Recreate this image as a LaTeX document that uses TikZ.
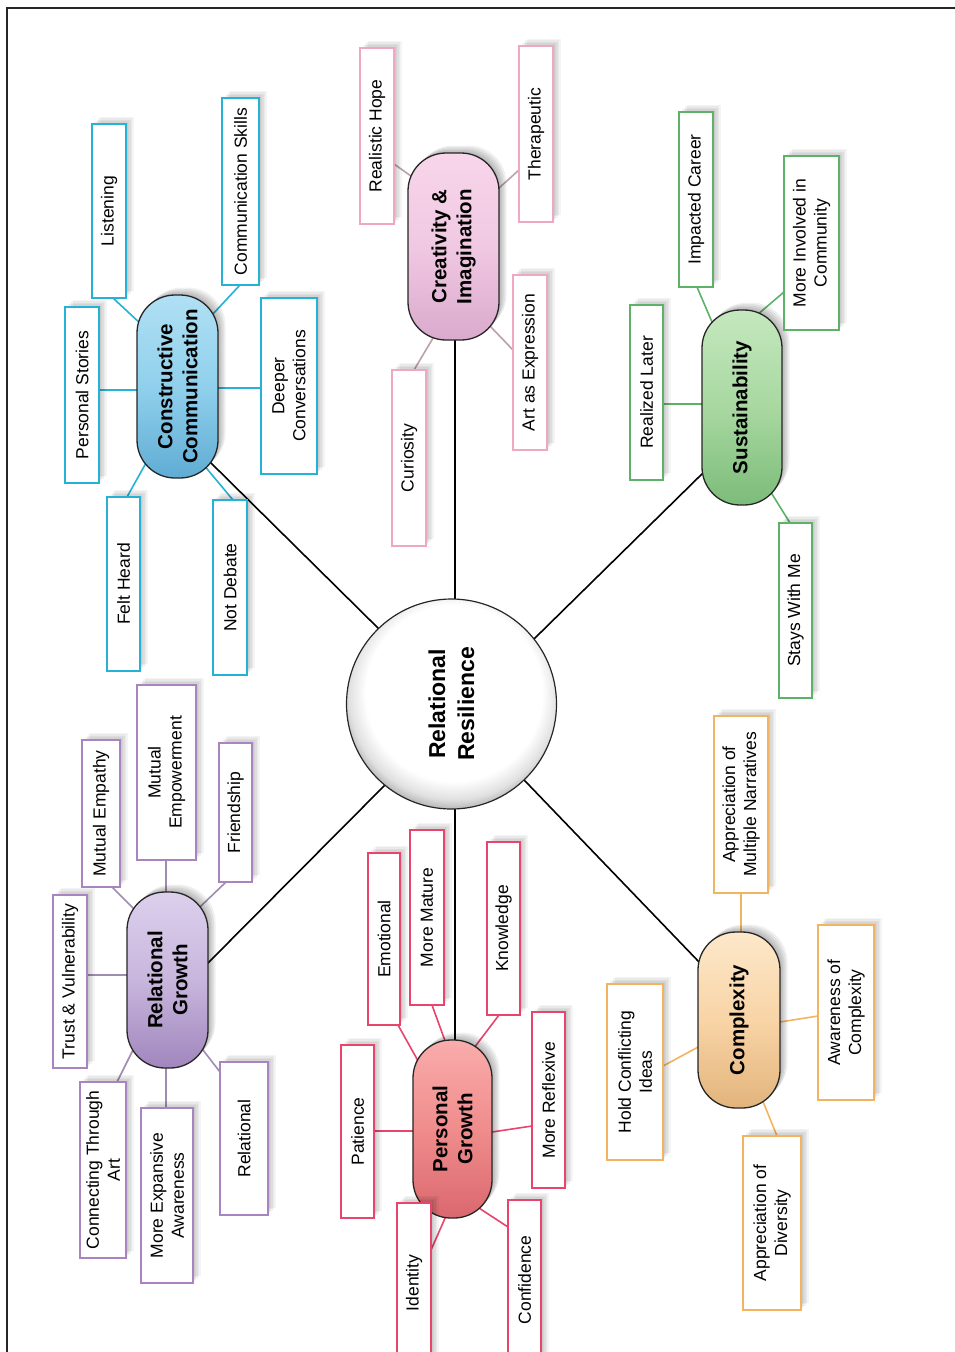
\documentclass[tikz,border=0pt]{standalone}
\usepackage{fontspec}
\setmainfont{Liberation Sans}
\usetikzlibrary{calc,backgrounds,shadows}

\pgfdeclarelayer{paper}
\pgfsetlayers{paper,background,main}

% leaf box colours
\definecolor{cyanC}{RGB}{38,178,214}
\definecolor{pinkC}{RGB}{238,168,195}
\definecolor{pinkL}{RGB}{188,160,170}
\definecolor{greenC}{RGB}{92,178,104}
\definecolor{purpC}{RGB}{168,132,192}
\definecolor{purpL}{RGB}{160,140,176}
\definecolor{redC}{RGB}{232,68,108}
\definecolor{orgC}{RGB}{242,180,96}

% pill fills: light / middle / dark
\definecolor{ccL}{RGB}{176,224,244}\definecolor{ccM}{RGB}{144,208,236}\definecolor{ccD}{RGB}{96,172,212}
\definecolor{ciL}{RGB}{248,214,234}\definecolor{ciM}{RGB}{240,200,226}\definecolor{ciD}{RGB}{218,170,204}
\definecolor{suL}{RGB}{196,232,190}\definecolor{suM}{RGB}{168,216,160}\definecolor{suD}{RGB}{124,188,122}
\definecolor{rgL}{RGB}{220,208,236}\definecolor{rgM}{RGB}{200,182,220}\definecolor{rgD}{RGB}{160,134,190}
\definecolor{pgL}{RGB}{250,172,172}\definecolor{pgM}{RGB}{240,140,140}\definecolor{pgD}{RGB}{218,104,110}
\definecolor{cxL}{RGB}{253,232,202}\definecolor{cxM}{RGB}{248,212,166}\definecolor{cxD}{RGB}{226,180,124}

% white hub with a grey rim towards the right (rim radius = 25bp)
\pgfdeclareradialshading{hubglow}{\pgfpoint{1bp}{4.5bp}}{%
  color(0bp)=(white); color(21bp)=(white); color(25bp)=(black!12);
  color(28bp)=(black!35); color(31bp)=(black!60); color(50bp)=(black!60)}

\tikzset{
  softshadow/.style={
    general shadow={fill=black, fill opacity=#1, shadow xshift=1.5pt, shadow yshift=1.5pt},
    general shadow={fill=black, fill opacity=#1, shadow xshift=3pt, shadow yshift=3pt},
    general shadow={fill=black, fill opacity=#1, shadow xshift=4.5pt, shadow yshift=4.5pt},
    general shadow={fill=black, fill opacity=#1, shadow xshift=6pt, shadow yshift=6pt},
    general shadow={fill=black, fill opacity=#1, shadow xshift=7.5pt, shadow yshift=7.5pt}},
  leaf/.style={rotate=90, draw=#1, fill=white, line width=1.6pt, inner sep=1pt,
    align=center, font=\fontsize{17.5}{21}\selectfont, softshadow=0.045},
  sz/.style 2 args={minimum width=#1pt, minimum height=#2pt},
  pill/.style n args={3}{rotate=90, draw=black!85, line width=1.3pt, rounded corners=38pt,
    top color=#1, bottom color=#3, middle color=#2, inner sep=1pt, align=center,
    font=\bfseries\fontsize{20.5}{25}\selectfont, softshadow=0.06},
  hub/.style={rotate=90, circle, draw=black!85, line width=1.2pt, minimum size=210pt,
    shade, shading=hubglow, align=center, font=\bfseries\fontsize{23}{29}\selectfont},
  spoke/.style={draw=black, line width=1.6pt, shorten <=-6pt, shorten >=-6pt},
  twig/.style={draw=#1, line width=1.6pt, shorten <=-4pt, shorten >=-6pt},
}

\begin{document}
\begin{tikzpicture}[x=1pt,y=1pt]
\useasboundingbox (0,0) rectangle (955,-1352);
\clip (0,0) rectangle (955,-1352);
\begin{pgfonlayer}{paper}
  \fill[white] (0,0) rectangle (955,-1352);
\end{pgfonlayer}

% frame
\draw[line width=2.2pt, black!85] (7,-1360) -- (7,-8) -- (960,-8);

% hub
\node[hub] (rr) at (451.5,-704) {Relational\\Resilience};

% ---------- Constructive Communication ----------
\node[pill={ccL}{ccM}{ccD}, sz={183}{81}] (cc) at (177.5,-386.5) {Constructive\\Communication};
\node[leaf=cyanC, sz={174}{34}] (lis)  at (109,-211)   {Listening};
\node[leaf=cyanC, sz={187}{37}] (coms) at (240.5,-191.5) {Communication Skills};
\node[leaf=cyanC, sz={176}{34}] (pers) at (82,-395)    {Personal Stories};
\node[leaf=cyanC, sz={176}{56}] (deep) at (289,-386)   {Deeper\\Conversations};
\node[leaf=cyanC, sz={174}{33}] (felt) at (123.5,-584) {Felt Heard};
\node[leaf=cyanC, sz={175}{34}] (notd) at (230,-587.5) {Not Debate};

% ---------- Creativity & Imagination ----------
\node[pill={ciL}{ciM}{ciD}, sz={187}{91}] (ci) at (453.5,-246.5) {Creativity \&\\Imagination};
\node[leaf=pinkC, sz={176}{34}] (hope) at (377,-136)   {Realistic Hope};
\node[leaf=pinkC, sz={176}{34}] (ther) at (536,-134)   {Therapeutic};
\node[leaf=pinkC, sz={176}{34}] (curi) at (409,-458)   {Curiosity};
\node[leaf=pinkC, sz={175}{34}] (arte) at (530,-362.5) {Art as Expression};

% ---------- Sustainability ----------
\node[pill={suL}{suM}{suD}, sz={195}{80}] (su) at (742,-407.5) {Sustainability};
\node[leaf=greenC, sz={175}{34}] (impc) at (696,-199.5)   {Impacted Career};
\node[leaf=greenC, sz={174}{55}] (invc) at (811.5,-243)   {More Involved in\\Community};
\node[leaf=greenC, sz={175}{33}] (real) at (646.5,-392.5) {Realized Later};
\node[leaf=greenC, sz={175}{33}] (stay) at (795.5,-610.5) {Stays With Me};

% ---------- Relational Growth ----------
\node[pill={rgL}{rgM}{rgD}, sz={176}{81}] (rg) at (167.5,-980) {Relational\\Growth};
\node[leaf=purpC, sz={173}{34}] (trus) at (70,-981.5)    {Trust \& Vulnerability};
\node[leaf=purpC, sz={147}{38}] (memp) at (101,-813.5)   {Mutual Empathy};
\node[leaf=purpC, sz={175}{59}] (mpow) at (166.5,-772.5) {Mutual\\Empowerment};
\node[leaf=purpC, sz={139}{33}] (frie) at (235.5,-812.5) {Friendship};
\node[leaf=purpC, sz={176}{46}] (cart) at (103,-1170)    {Connecting Through\\Art};
\node[leaf=purpC, sz={175}{52}] (mexp) at (167,-1195.5)  {More Expansive\\Awareness};
\node[leaf=purpC, sz={153}{48}] (rela) at (244,-1138.5)  {Relational};

% ---------- Personal Growth ----------
\node[pill={pgL}{pgM}{pgD}, sz={178}{79}] (pg) at (452.5,-1129) {Personal\\Growth};
\node[leaf=redC, sz={173}{33}] (pati) at (357.5,-1131.5) {Patience};
\node[leaf=redC, sz={172}{32}] (emot) at (384,-939)      {Emotional};
\node[leaf=redC, sz={175}{34}] (matu) at (427,-917.5)    {More Mature};
\node[leaf=redC, sz={173}{33}] (know) at (503.5,-928.5)  {Knowledge};
\node[leaf=redC, sz={176}{33}] (refl) at (548.5,-1100)   {More Reflexive};
\node[leaf=redC, sz={160}{34}] (iden) at (414,-1283)     {Identity};
\node[leaf=redC, sz={160}{33}] (conf) at (524.5,-1280)   {Confidence};

% ---------- Complexity ----------
\node[pill={cxL}{cxM}{cxD}, sz={176}{82}] (cx) at (739,-1020) {Complexity};
\node[leaf=orgC, sz={177}{54}] (narr) at (741,-804.5)  {Appreciation of\\Multiple Narratives};
\node[leaf=orgC, sz={175}{56}] (awar) at (846,-1012.5) {Awareness of\\Complexity};
\node[leaf=orgC, sz={176}{56}] (hold) at (635,-1072)   {Hold Conflicting\\Ideas};
\node[leaf=orgC, sz={174}{58}] (divr) at (772,-1223)   {Appreciation of\\Diversity};

% ---------- connectors, drawn beneath the boxes ----------
\begin{scope}[on background layer]
  % hub spokes
  \draw[spoke] ($(rr.center)+(-71.5,74)$)  -- ($(cc.center)+(30.5,-73.5)$);
  \draw[spoke] ($(rr.center)+(3.5,106)$)   -- ($(ci.center)+(1.5,-93.5)$);
  \draw[spoke] ($(rr.center)+(83.5,66)$)   -- ($(su.center)+(-36,-62.5)$);
  \draw[spoke] ($(rr.center)+(-68.5,-83)$) -- ($(rg.center)+(37.5,14)$);
  \draw[spoke] ($(rr.center)+(3.5,-106)$)  -- ($(pg.center)+(2.5,89)$);
  \draw[spoke] ($(rr.center)+(75.5,-79)$)  -- ($(cx.center)+(-39,57)$);

  % Constructive Communication
  \draw[twig=cyanC] ($(lis.center)+(4,-87)$)     -- ($(cc.center)+(-35.5,61.5)$);
  \draw[twig=cyanC] ($(coms.center)+(-0.5,-93.5)$) -- ($(cc.center)+(34.5,71.5)$);
  \draw[twig=cyanC] ($(pers.center)+(17,5)$)     -- ($(cc.center)+(-40.5,-3.5)$);
  \draw[twig=cyanC] ($(deep.center)+(-28,-2)$)   -- ($(cc.center)+(40.5,-1.5)$);
  \draw[twig=cyanC] ($(felt.center)+(3.5,87)$)   -- ($(cc.center)+(-31.5,-76.5)$);
  \draw[twig=cyanC] ($(notd.center)+(3,87.5)$)   -- ($(cc.center)+(30.5,-83.5)$);

  % Creativity & Imagination
  \draw[twig=pinkL] ($(hope.center)+(17,-28)$)   -- ($(ci.center)+(-42.5,70.5)$);
  \draw[twig=pinkL] ($(ther.center)+(-17,-36)$)  -- ($(ci.center)+(45.5,58.5)$);
  \draw[twig=pinkL] ($(curi.center)+(5,88)$)     -- ($(ci.center)+(-20.5,-91.5)$);
  \draw[twig=pinkL] ($(arte.center)+(-17,12.5)$) -- ($(ci.center)+(36.5,-79.5)$);

  % Sustainability
  \draw[twig=greenC] ($(impc.center)+(1,-87.5)$)   -- ($(su.center)+(-30,85.5)$);
  \draw[twig=greenC] ($(invc.center)+(-27.5,-49)$) -- ($(su.center)+(15,92.5)$);
  \draw[twig=greenC] ($(real.center)+(16.5,-11.5)$) -- ($(su.center)+(-40,3.5)$);
  \draw[twig=greenC] ($(stay.center)+(-5.5,87.5)$) -- ($(su.center)+(30,-86.5)$);

  % Relational Growth
  \draw[twig=purpL] ($(trus.center)+(17,6.5)$)    -- ($(rg.center)+(-40.5,5)$);
  \draw[twig=purpL] ($(memp.center)+(11,-73.5)$)  -- ($(rg.center)+(-35.5,73)$);
  \draw[twig=purpL] ($(mpow.center)+(-0.5,-87.5)$) -- ($(rg.center)+(-1.5,88)$);
  \draw[twig=purpL] ($(frie.center)+(-9.5,-69.5)$) -- ($(rg.center)+(34.5,75)$);
  \draw[twig=purpL] ($(cart.center)+(14,88)$)     -- ($(rg.center)+(-34.5,-70)$);
  \draw[twig=purpL] ($(mexp.center)+(-1,87.5)$)   -- ($(rg.center)+(-1.5,-88)$);
  \draw[twig=purpL] ($(rela.center)+(-24,66.5)$)  -- ($(rg.center)+(35.5,-70)$);

  % Personal Growth
  \draw[twig=redC] ($(pati.center)+(16.5,0.5)$)  -- ($(pg.center)+(-39.5,-2)$);
  \draw[twig=redC] ($(emot.center)+(14,-86)$)    -- ($(pg.center)+(-35.5,70)$);
  \draw[twig=redC] ($(matu.center)+(5,-87.5)$)   -- ($(pg.center)+(-8.5,91)$);
  \draw[twig=redC] ($(know.center)+(-4.5,-86.5)$) -- ($(pg.center)+(24.5,85)$);
  \draw[twig=redC] ($(refl.center)+(-16.5,-26)$) -- ($(pg.center)+(39.5,-3)$);
  \draw[twig=redC] ($(iden.center)+(17,33)$)     -- ($(pg.center)+(-6.5,-87)$);
  \draw[twig=redC] ($(conf.center)+(-16.5,53)$)  -- ($(pg.center)+(29.5,-81)$);

  % Complexity
  \draw[twig=orgC] ($(narr.center)+(0,-88.5)$)  -- ($(cx.center)+(2,88)$);
  \draw[twig=orgC] ($(awar.center)+(-28,-3.5)$) -- ($(cx.center)+(41,-2)$);
  \draw[twig=orgC] ($(hold.center)+(28,6)$)     -- ($(cx.center)+(-39,-26)$);
  \draw[twig=orgC] ($(divr.center)+(5,87)$)     -- ($(cx.center)+(25,-84)$);
\end{scope}
\end{tikzpicture}
\end{document}
